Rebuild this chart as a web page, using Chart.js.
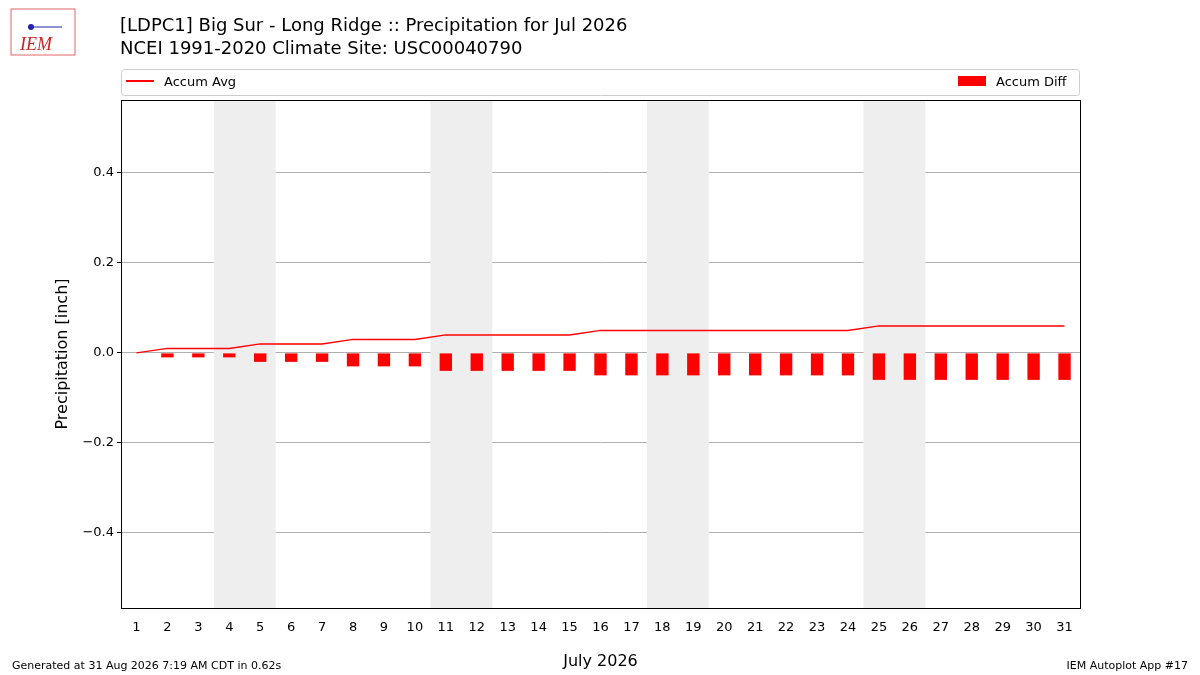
<!DOCTYPE html>
<html><head><meta charset="utf-8">
<script src="https://cdn.jsdelivr.net/npm/chart.js@4"></script>
<style>body{margin:0;background:#fff}#w{width:1200px;height:675px;position:relative}</style>
</head><body><div id="w"><canvas id="c" width="1200" height="675"></canvas></div>
<script>
const days = Array.from({length:31},(_,i)=>String(i+1));
const accumAvg = [0,0.01,0.01,0.01,0.02,0.02,0.02,0.03,0.03,0.03,0.04,0.04,0.04,0.04,0.04,0.05,0.05,0.05,0.05,0.05,0.05,0.05,0.05,0.05,0.06,0.06,0.06,0.06,0.06,0.06,0.06];
const accumDiff = [0,-0.01,-0.01,-0.01,-0.02,-0.02,-0.02,-0.03,-0.03,-0.03,-0.04,-0.04,-0.04,-0.04,-0.04,-0.05,-0.05,-0.05,-0.05,-0.05,-0.05,-0.05,-0.05,-0.05,-0.06,-0.06,-0.06,-0.06,-0.06,-0.06,-0.06];
const weekendStarts = [4,11,18,25]; // first day of each shaded pair
const yTicks = [-0.4,-0.2,0,0.2,0.4];
const F = 'DejaVu Sans';
const deco = {
  id:'deco',
  beforeDatasetsDraw(ch){
    const {ctx,chartArea:a,scales:{x}}=ch;
    const w = x.getPixelForValue(1)-x.getPixelForValue(0);
    ctx.save();ctx.fillStyle='#eeeeee';
    weekendStarts.forEach(d=>{
      const l=x.getPixelForValue(d-1)-w/2;
      ctx.fillRect(l,a.top,2*w,a.bottom-a.top);
    });
    ctx.restore();
  },
  afterDraw(ch){
    const {ctx,chartArea:a}=ch;
    ctx.save();
    ctx.strokeStyle='#000';ctx.lineWidth=1;
    ctx.strokeRect(a.left+0.5,a.top+0.5,a.right-a.left,a.bottom-a.top);
    ctx.fillStyle='#000';ctx.textBaseline='alphabetic';
    ctx.font='18px '+F;
    ctx.fillText('[LDPC1] Big Sur - Long Ridge :: Precipitation for Jul 2026',120,31);
    ctx.fillText('NCEI 1991-2020 Climate Site: USC00040790',120,54);
    ctx.font='11px '+F;
    ctx.fillText('Generated at 31 Aug 2026 7:19 AM CDT in 0.62s',12,669);
    ctx.textAlign='right';ctx.fillText('IEM Autoplot App #17',1188,669);
    // legend
    ctx.strokeStyle='#cccccc';ctx.beginPath();
    ctx.roundRect(121.5,69.5,958,26,3);ctx.stroke();
    ctx.strokeStyle='red';ctx.lineWidth=2;ctx.beginPath();ctx.moveTo(126,81);ctx.lineTo(154,81);ctx.stroke();
    ctx.textAlign='left';ctx.font='13px '+F;ctx.fillStyle='#000';
    ctx.fillText('Accum Avg',164,86);
    ctx.fillStyle='red';ctx.fillRect(958,76,28,10);
    ctx.fillStyle='#000';ctx.fillText('Accum Diff',996,86);
    // y title
    ctx.font='16px '+F;ctx.translate(67,354);ctx.rotate(-Math.PI/2);ctx.textAlign='center';
    ctx.fillText('Precipitation [inch]',0,0);
    ctx.restore();
    // logo
    ctx.save();ctx.strokeStyle='#d66';ctx.lineWidth=1;
    ctx.strokeRect(11,9,64,46);
    ctx.fillStyle='#c22';ctx.font='italic 18px Liberation Serif';ctx.fillText('IEM',20,50);
    ctx.strokeStyle='#22a';ctx.beginPath();ctx.moveTo(28,27);ctx.lineTo(62,27);ctx.stroke();
    ctx.fillStyle='#22a';ctx.beginPath();ctx.arc(31,27,3,0,7);ctx.fill();
    ctx.restore();
  }
};
new Chart(document.getElementById('c'),{
  type:'bar',
  data:{labels:days,datasets:[
    {type:'line',label:'Accum Avg',data:accumAvg,borderColor:'red',borderWidth:1.5,pointRadius:0,tension:0,order:0},
    {type:'bar',label:'Accum Diff',data:accumDiff,backgroundColor:'red',barPercentage:0.4,categoryPercentage:1,order:1}
  ]},
  plugins:[deco],
  options:{responsive:false,animation:false,devicePixelRatio:1,
    layout:{padding:{left:0,right:120,top:100,bottom:0}},
    plugins:{legend:{display:false},tooltip:{enabled:false}},
    scales:{
      x:{offset:true,grid:{display:false},border:{display:false},
        ticks:{color:'#000',font:{family:F,size:13},maxRotation:0,autoSkip:false,padding:4},
        title:{display:true,text:'July 2026',color:'#000',font:{family:F,size:16},padding:{top:2}},
        afterFit(s){s.height=67;}},
      y:{min:-0.567,max:0.562,
        afterBuildTicks(s){s.ticks=yTicks.map(v=>({value:v}));},
        afterFit(s){s.width=121;},
        grid:{color:'#b0b0b0',drawTicks:true,tickLength:4,tickColor:'#000'},border:{display:false},
        ticks:{color:'#000',font:{family:F,size:13},callback:v=>(v<0?'\u2212':'')+Math.abs(v).toFixed(1)}}
    }}
});
</script></body></html>
